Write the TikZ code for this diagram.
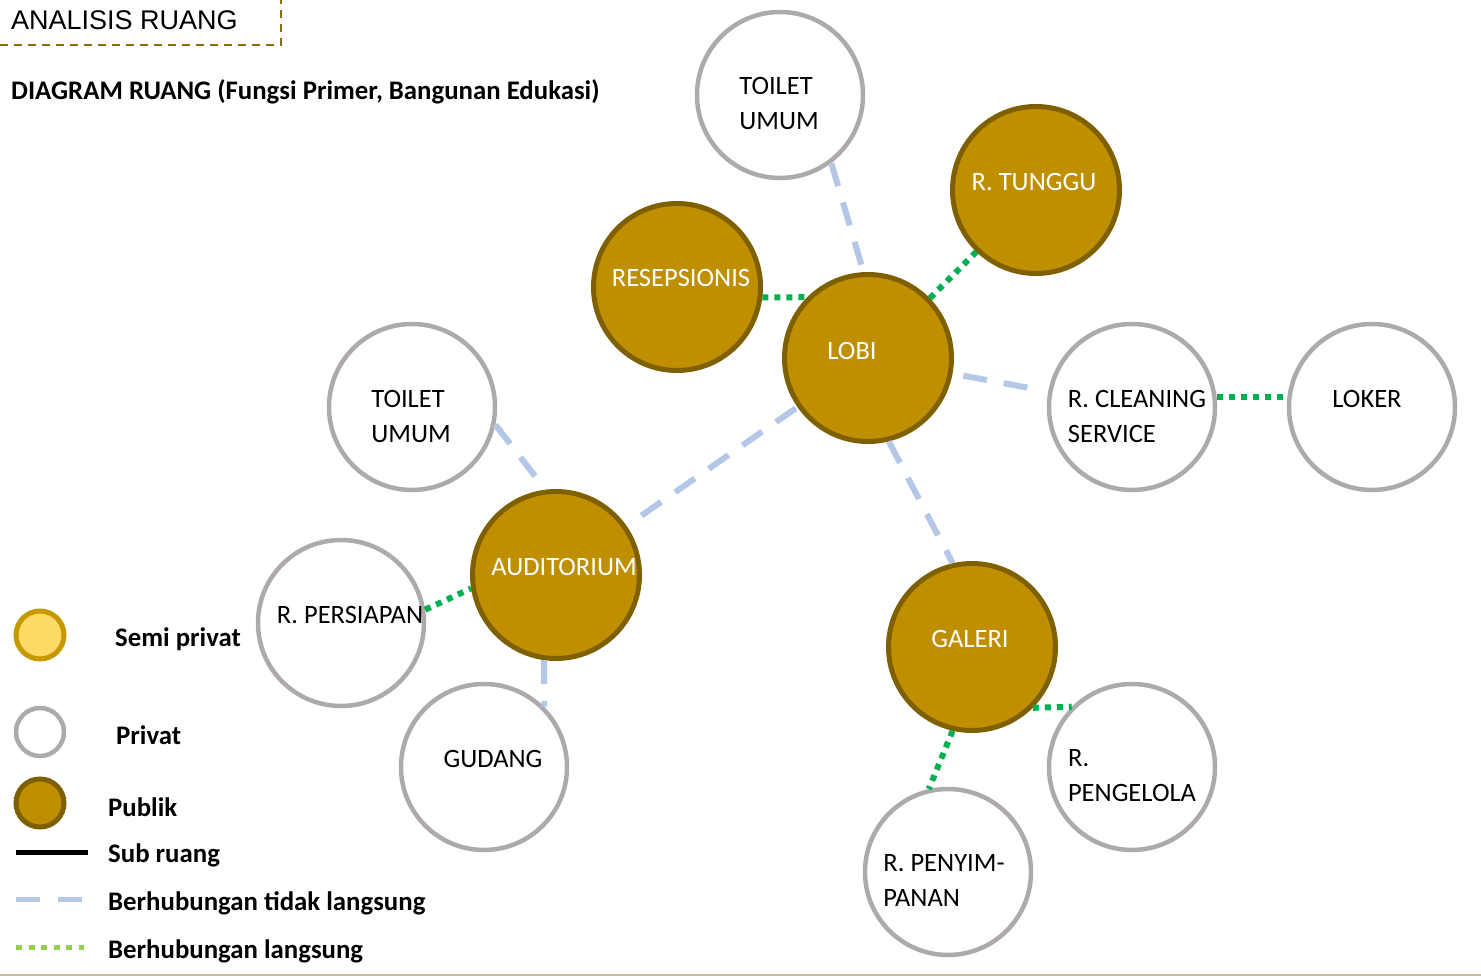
\documentclass[tikz,border=0pt]{standalone}
\usepackage{fontspec}
\setmainfont{Carlito}
\newfontfamily\arialf{Liberation Sans}
\definecolor{pubfill}{HTML}{BF8F00}
\definecolor{pubdraw}{HTML}{7F6000}
\definecolor{privdraw}{HTML}{AEAAAA}
\definecolor{semifill}{HTML}{FFD966}
\definecolor{semidraw}{HTML}{C49A00}
\definecolor{indirect}{HTML}{B4C7E7}
\definecolor{direct}{HTML}{00B050}
\definecolor{directlg}{HTML}{92D050}
\definecolor{framec}{HTML}{8F6B12}
\definecolor{bottomline}{HTML}{C8BFA8}
\tikzset{
  pub/.style={circle, draw=pubdraw, fill=pubfill, line width=5pt, minimum size=167pt, inner sep=0pt},
  priv/.style={circle, draw=privdraw, fill=white, line width=4.5pt, minimum size=166pt, inner sep=0pt},
  txtw/.style={text=white, font=\fontsize{26.5}{35}\selectfont, inner sep=0pt},
  txtb/.style={text=black, font=\fontsize{26.5}{35}\selectfont, inner sep=0pt, align=left},
  legtxt/.style={text=black, font=\fontsize{26.8}{30}\selectfont\bfseries, inner sep=0pt, anchor=west},
  indir/.style={draw=indirect, line width=6pt, dash pattern=on 24pt off 17pt},
  dir/.style={draw=direct, line width=6pt, dash pattern=on 6pt off 6pt},
}
\begin{document}
\begin{tikzpicture}[x=1pt,y=-1pt]
\useasboundingbox (0,0) rectangle (1481,976);
\fill[white] (0,0) rectangle (1481,976);
\draw[draw=bottomline, line width=1.5pt] (0,975) -- (1481,975);
% header
\draw[framec, line width=2pt, dash pattern=on 8pt off 6pt] (0,45) -- (281,45) -- (281,0);
\node[anchor=west, inner sep=0pt, font=\arialf\fontsize{27}{30}\selectfont] (title) at (11,20) {ANALISIS RUANG};
\node[legtxt] (subtitle) at (11,92) {DIAGRAM RUANG (Fungsi Primer, Bangunan Edukasi)};
% circles
\node[priv] (toiletA) at (780,95) {};
\node[pub] (tunggu) at (1036,190) {};
\node[pub] (resep) at (677,287) {};
\node[pub] (lobi) at (868,358) {};
\node[priv] (toiletB) at (412,407) {};
\node[priv] (clean) at (1132,407) {};
\node[priv] (loker) at (1372,407) {};
\node[pub] (aud) at (556,575) {};
\node[priv] (persiap) at (341,623) {};
\node[priv] (gudang) at (484,767) {};
\node[pub] (galeri) at (972,647) {};
\node[priv] (pengelola) at (1132,767) {};
\node[priv] (penyimpan) at (948,872) {};
% connectors
\draw[indir] (toiletA.-53) -- (lobi.93);
\draw[dir] (resep.-7) -- (lobi.135);
\draw[dir] (lobi.44) -- (tunggu.-134);
\draw[indir, shorten <=11pt, shorten >=18pt] (lobi) -- (clean);
\draw[indir, shorten <=2pt, shorten >=18pt] (lobi) -- (aud);
\draw[indir] (lobi.-76) -- (galeri.103);
\draw[indir] (toiletB.-12) -- (aud.97);
\draw[indir] (aud.-98) -- (gudang.45);
\draw[dir] (persiap.9) -- (aud.189);
\draw[dir] (clean.7) -- (loker.173);
\draw[dir] (galeri.-45) -- (pengelola.135);
\draw[dir] (galeri.-103) -- (penyimpan.103);
% texts
\node[txtb] (toiletAT) at (779,104) {TOILET\\UMUM};
\node[txtw] (tungguT) at (1034,182) {R. TUNGGU};
\node[txtw] (resepT) at (681,278) {RESEPSIONIS};
\node[txtw] (lobiT) at (852,351) {LOBI};
\node[txtb] (toiletBT) at (411,416) {TOILET\\UMUM};
\node[txtb] (cleanT) at (1137,416) {R. CLEANING\\SERVICE};
\node[txtb] (lokerT) at (1367,399) {LOKER};
\node[txtw] (audT) at (564,567) {AUDITORIUM};
\node[txtb] (persiapT) at (350,615) {R. PERSIAPAN};
\node[txtb] (gudangT) at (493,759) {GUDANG};
\node[txtw] (galeriT) at (970,639) {GALERI};
\node[txtb] (pengelolaT) at (1132,776) {R.\\PENGELOLA};
\node[txtb] (penyimpanT) at (944,880) {R. PENYIM-\\PANAN};
% legend
\node[circle, draw=semidraw, fill=semifill, line width=5pt, minimum size=48pt, inner sep=0pt] (lgSemi) at (40,635) {};
\node[circle, draw=privdraw, fill=white, line width=4.5pt, minimum size=48pt, inner sep=0pt] (lgPriv) at (40,732) {};
\node[circle, draw=pubdraw, fill=pubfill, line width=5pt, minimum size=48pt, inner sep=0pt] (lgPub) at (40,803) {};
\coordinate (lgSubA) at (16,852); \coordinate (lgSubB) at (88,852);
\draw[black, line width=5pt] (lgSubA) -- (lgSubB);
\coordinate (lgIndA) at (16,899); \coordinate (lgIndB) at (82,899);
\draw[indirect, line width=5pt, dash pattern=on 24pt off 18pt] (lgIndA) -- (lgIndB);
\coordinate (lgDirA) at (16,947); \coordinate (lgDirB) at (84,947);
\draw[directlg, line width=5pt, dash pattern=on 6pt off 6.5pt] (lgDirA) -- (lgDirB);
\node[legtxt] (lgSemiT) at (115,639) {Semi privat};
\node[legtxt] (lgPrivT) at (116,735) {Privat};
\node[legtxt] (lgPubT) at (108,807) {Publik};
\node[legtxt] (lgSubT) at (108,855) {Sub ruang};
\node[legtxt] (lgIndT) at (108,903) {Berhubungan tidak langsung};
\node[legtxt] (lgDirT) at (108,951) {Berhubungan langsung};
\end{tikzpicture}
\end{document}
